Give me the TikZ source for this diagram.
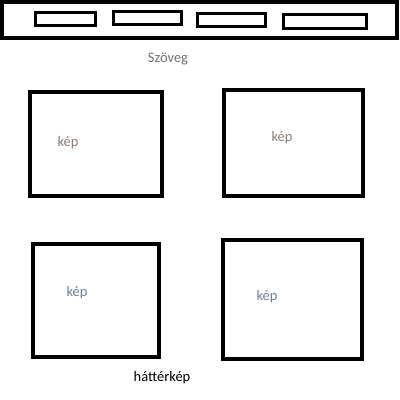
\documentclass[tikz,border=0pt]{standalone}
\usepackage{fontspec}
\setmainfont{Carlito}
\usepackage{tikz}
\usetikzlibrary{shapes,calc}
\definecolor{textgray}{HTML}{707070}
\definecolor{picbrown}{HTML}{8C7B70}
\definecolor{picblue}{HTML}{6B7E9A}

\begin{document}
\begin{tikzpicture}[x=1pt, y=-1pt]
\tikzstyle{frame}=[rectangle, draw=black, line width=4pt, inner sep=0pt]
\tikzstyle{menu}=[frame, line width=3pt]
\tikzstyle{label}=[font=\fontsize{14.5}{17}\selectfont, inner sep=0pt]

  \useasboundingbox (0,0) rectangle (400,400);

  % top bar with the menu items
  \node[frame] (bar)   at (199.5,20) [minimum width=395pt, minimum height=36pt] {};
  \node[menu]  (menuA) at (65,19)    [minimum width=60pt,  minimum height=13pt] {};
  \node[menu]  (menuB) at (147,18)   [minimum width=68pt,  minimum height=13pt] {};
  \node[menu]  (menuC) at (231,20)   [minimum width=68pt,  minimum height=13pt] {};
  \node[menu]  (menuD) at (324.5,21.5) [minimum width=83pt, minimum height=14pt] {};

  \node[label, textgray] (szoveg) at (168,59) {Szöveg};

  % pictures
  \node[frame] (picA) at (96,144)     [minimum width=132pt, minimum height=104pt] {};
  \node[frame] (picB) at (293.5,143)  [minimum width=139pt, minimum height=106pt] {};
  \node[frame] (picC) at (96,300.5)   [minimum width=126pt, minimum height=113pt] {};
  \node[frame] (picD) at (292.5,299.5) [minimum width=139pt, minimum height=119pt] {};

  \node[label, picbrown] (kepA) at (68,143)  {kép};
  \node[label, picbrown] (kepB) at (282,138) {kép};
  \node[label, picblue]  (kepC) at (77,293)  {kép};
  \node[label, picblue]  (kepD) at (267,297) {kép};

  \node[label, black] (hatter) at (162,378) {háttérkép};

\end{tikzpicture}
\end{document}
